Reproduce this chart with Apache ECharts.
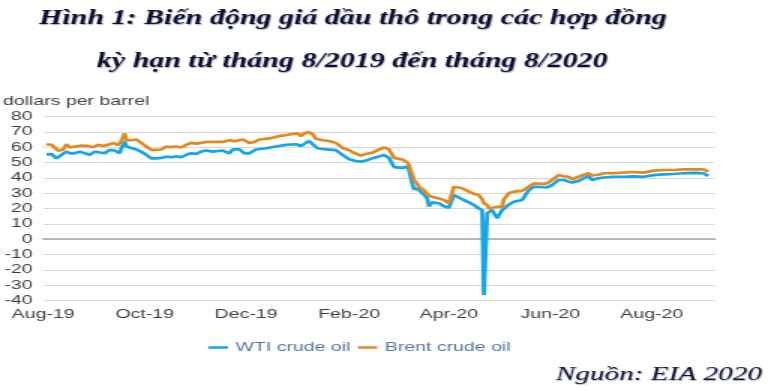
<!DOCTYPE html>
<html><head><meta charset="utf-8">
<script src="https://cdn.jsdelivr.net/npm/echarts@6/dist/echarts.min.js"></script>
<style>
html,body{margin:0;padding:0;background:#fff;overflow:hidden;}
#wrap{width:780px;height:391px;overflow:hidden;position:relative;}
#chart{width:520px;height:391px;transform:scaleX(1.5);transform-origin:0 0;}
</style></head><body>
<div id="wrap"><div id="chart"></div></div>
<script>
const titleLine1 = 'Hình 1: Biến động giá dầu thô trong các hợp đồng';
const titleLine2 = 'kỳ hạn từ tháng 8/2019 đến tháng 8/2020';
const yAxisUnit = 'dollars per barrel';
const sourceNote = 'Nguồn: EIA 2020';
const seriesNames = ['WTI crude oil', 'Brent crude oil'];
const axisStart = '2019-08-01';
const axisEnd = '2020-09-08';
const tickDates = ['2019-08-01','2019-10-01','2019-12-01','2020-02-01','2020-04-01','2020-06-01','2020-08-01'];
const tickLabels = ['Aug-19','Oct-19','Dec-19','Feb-20','Apr-20','Jun-20','Aug-20'];
const yMin = -40, yMax = 80, yStep = 10;

const brentDates = ['2019-08-03','2019-08-06','2019-08-10','2019-08-13','2019-08-15','2019-08-17','2019-08-20','2019-08-24','2019-08-28','2019-08-31',
'2019-09-03','2019-09-06','2019-09-09','2019-09-12','2019-09-15','2019-09-17','2019-09-19','2019-09-20','2019-09-23','2019-09-26','2019-09-29',
'2019-10-02','2019-10-05','2019-10-08','2019-10-11','2019-10-14','2019-10-17','2019-10-20','2019-10-23','2019-10-26','2019-10-29',
'2019-11-01','2019-11-04','2019-11-07','2019-11-11','2019-11-17','2019-11-21','2019-11-24','2019-11-29',
'2019-12-03','2019-12-06','2019-12-09','2019-12-15','2019-12-21','2019-12-27',
'2020-01-01','2020-01-03','2020-01-05','2020-01-08','2020-01-10','2020-01-12','2020-01-16','2020-01-20','2020-01-24','2020-01-28',
'2020-02-01','2020-02-05','2020-02-08','2020-02-11','2020-02-15','2020-02-22','2020-02-25','2020-02-28',
'2020-03-04','2020-03-07','2020-03-08','2020-03-10','2020-03-11','2020-03-13','2020-03-14','2020-03-17','2020-03-19','2020-03-22','2020-03-26','2020-03-29',
'2020-04-01','2020-04-04','2020-04-09','2020-04-13','2020-04-16','2020-04-19','2020-04-21','2020-04-22','2020-04-24','2020-04-25','2020-04-27','2020-04-30',
'2020-05-03','2020-05-04','2020-05-07','2020-05-10','2020-05-15','2020-05-19','2020-05-22','2020-05-27','2020-05-30',
'2020-06-02','2020-06-06','2020-06-09','2020-06-12','2020-06-14','2020-06-18','2020-06-24','2020-06-26','2020-06-30',
'2020-07-03','2020-07-09','2020-07-15','2020-07-21','2020-07-27',
'2020-08-02','2020-08-08','2020-08-14','2020-08-20','2020-08-26','2020-09-01','2020-09-04'];
const brentPrices = [61.9,61.5,57.7,58.5,61.9,59.8,60.4,61,60.8,60,
61.5,60.8,61.5,62.8,61.3,64,69,64.5,64.5,65,62.8,
60.4,58.2,58.2,58.5,60.4,60,60.4,59.8,61.5,62.8,
62.3,62.8,63.4,63.4,63.4,64.5,63.8,65,
62.8,63.4,65,65.7,67.2,68.3,
69,67.2,69,69.8,68.5,65.5,64.5,64,62.8,59.5,
58,55.8,54.6,55.5,56.4,59.9,58.5,53,
52,50,48.4,42,38.5,36,34,32,29,27.5,26.6,25.5,
23.4,34.2,33.2,31,29.5,28.8,26,23.5,22.3,20.1,20.5,21.2,
21,26,29.9,31,31.5,34.2,36.4,36,36.4,
38.6,41.8,41,40.7,39,40.7,43,41.6,42,
43,43,43.4,43.8,43.4,
44.7,45.1,45.1,45.5,45.5,45.5,44];

const wtiDates = ['2019-08-03','2019-08-06','2019-08-09','2019-08-12','2019-08-15','2019-08-17','2019-08-20','2019-08-23','2019-08-26','2019-08-29',
'2019-09-01','2019-09-04','2019-09-07','2019-09-10','2019-09-13','2019-09-16','2019-09-17','2019-09-19','2019-09-20','2019-09-23','2019-09-26','2019-09-29',
'2019-10-02','2019-10-05','2019-10-08','2019-10-11','2019-10-14','2019-10-17','2019-10-20','2019-10-23','2019-10-26','2019-10-29',
'2019-11-01','2019-11-04','2019-11-07','2019-11-11','2019-11-17','2019-11-21','2019-11-23','2019-11-27','2019-11-30',
'2019-12-03','2019-12-07','2019-12-13','2019-12-19','2019-12-25','2019-12-31',
'2020-01-03','2020-01-06','2020-01-08','2020-01-10','2020-01-13','2020-01-18','2020-01-24','2020-01-28',
'2020-02-01','2020-02-05','2020-02-08','2020-02-11','2020-02-15','2020-02-22','2020-02-25','2020-02-28',
'2020-03-04','2020-03-07','2020-03-08','2020-03-10','2020-03-11','2020-03-13','2020-03-14','2020-03-17','2020-03-19','2020-03-20','2020-03-22','2020-03-26','2020-03-29',
'2020-04-01','2020-04-04','2020-04-09','2020-04-13','2020-04-16','2020-04-19','2020-04-21','2020-04-22','2020-04-24','2020-04-25','2020-04-27','2020-04-30',
'2020-05-03','2020-05-07','2020-05-10','2020-05-15','2020-05-19','2020-05-22','2020-05-27','2020-05-30',
'2020-06-02','2020-06-06','2020-06-09','2020-06-12','2020-06-14','2020-06-18','2020-06-24','2020-06-26','2020-06-30',
'2020-07-03','2020-07-09','2020-07-15','2020-07-21','2020-07-27',
'2020-08-02','2020-08-08','2020-08-14','2020-08-20','2020-08-26','2020-09-01','2020-09-04'];
const wtiPrices = [55.3,55.5,52.7,55,57.1,56,56,57.1,56,55,
57.1,56.5,56,58.2,57.8,56,59.3,63.6,60.4,59.5,58.5,57,
55,52.7,52.7,53,53.8,53.4,54,53.4,55,56,
55.6,57.1,57.8,57.1,57.8,56,58.5,58.5,56,
56,58.5,59.3,60.4,61.5,61.9,
60.8,62.8,64,62,59.3,58.5,58.1,55,
52.1,51,50.6,51.2,52.7,54.9,53,47,
46.5,47.3,45,36,32.5,33,32,29,26.5,21.5,24,23.4,21.5,
20.5,28.8,26,24,22.3,20,19,-36.4,16.9,17.9,19,13.6,
19,22.5,24.4,25.5,32,34.2,34,33.8,
35.3,38.6,38.6,37.5,37,38,41.2,38.6,39.7,
40.2,40.7,40.7,41,40.7,
41.8,42.3,42.5,43,43.2,43,41.2];

function toTime(s) { const p = s.split('-').map(Number); return Date.UTC(p[0], p[1] - 1, p[2]); }
const tickTimes = tickDates.map(toTime);

const chart = echarts.init(document.getElementById('chart'), null, { renderer: 'canvas' });
const serifTitle = { fontFamily: '"Liberation Serif", "DejaVu Serif", serif', fontStyle: 'italic', fontWeight: 'bold', fontSize: 20, color: '#0c1030',
  textShadowColor: 'rgba(20,30,90,0.35)', textShadowBlur: 1, textShadowOffsetX: 0.6, textShadowOffsetY: 0.6 };
chart.setOption({
  animation: false,
  backgroundColor: '#ffffff',
  title: [
    { text: titleLine1, left: 26, top: 9, padding: 0, textStyle: serifTitle },
    { text: titleLine2, left: 64.5, top: 52, padding: 0, textStyle: serifTitle },
    { text: yAxisUnit, left: 2, top: 95, padding: 0, textStyle: { fontFamily: '"Liberation Sans", Arial, sans-serif', fontSize: 13, fontWeight: 'normal', color: '#404040' } },
    { text: sourceNote, right: 12, top: 365, padding: 0, textStyle: { fontFamily: '"Liberation Serif", "DejaVu Serif", serif', fontStyle: 'italic', fontWeight: 'normal', fontSize: 19.5, color: '#0c1030',
      textShadowColor: 'rgba(20,30,90,0.35)', textShadowBlur: 1, textShadowOffsetX: 0.6, textShadowOffsetY: 0.6 } }
  ],
  legend: {
    left: 139, top: 341, padding: 0, itemWidth: 13, itemHeight: 2.5, itemGap: 5,
    icon: 'rect',
    textStyle: { fontFamily: '"Liberation Sans", Arial, sans-serif', fontSize: 13, color: '#5475a6' },
    data: seriesNames
  },
  grid: { left: 26.67, right: 43.33, top: 116.5, bottom: 90.5, containLabel: false },
  xAxis: {
    type: 'value',
    min: toTime(axisStart), max: toTime(axisEnd),
    axisLine: { show: true, lineStyle: { color: '#a6a6a6', width: 1.5 } },
    axisTick: { show: false },
    splitLine: { show: false },
    axisLabel: {
      customValues: tickTimes,
      margin: 7,
      fontFamily: '"Liberation Sans", Arial, sans-serif', fontSize: 13, color: '#404040',
      formatter: function (v) {
        let best = -1, bd = Infinity;
        tickTimes.forEach(function (t, i) { const d = Math.abs(t - v); if (d < bd) { bd = d; best = i; } });
        return bd < 86400000 * 2 ? tickLabels[best] : '';
      }
    }
  },
  yAxis: {
    type: 'value', min: yMin, max: yMax, interval: yStep,
    axisLine: { show: false }, axisTick: { show: false },
    splitLine: { show: true, lineStyle: { color: '#d9d9d9', width: 1.2 } },
    axisLabel: { margin: 7, fontFamily: '"Liberation Sans", Arial, sans-serif', fontSize: 13, color: '#404040' }
  },
  series: [
    { name: seriesNames[0], type: 'line', showSymbol: false, symbol: 'none', color: '#12a6ea',
      lineStyle: { width: 2.7, color: '#12a6ea' },
      data: wtiDates.map(function (d, i) { return [toTime(d), wtiPrices[i]]; }) },
    { name: seriesNames[1], type: 'line', showSymbol: false, symbol: 'none', color: '#e3891e',
      lineStyle: { width: 2.7, color: '#e3891e' },
      data: brentDates.map(function (d, i) { return [toTime(d), brentPrices[i]]; }) }
  ]
});
</script>
</body></html>
